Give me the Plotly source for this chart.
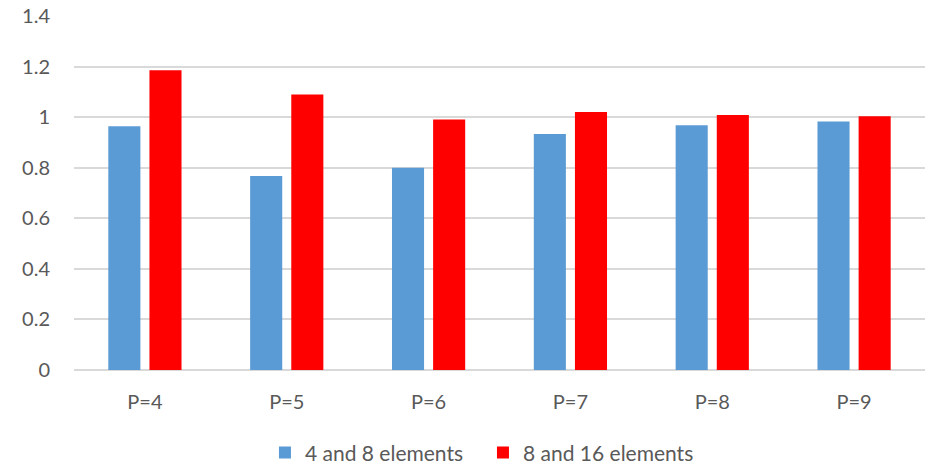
import plotly.graph_objects as go

categories = ["P=4", "P=5", "P=6", "P=7", "P=8", "P=9"]
series_a_name = "4 and 8 elements"
series_a = [0.964, 0.767, 0.800, 0.933, 0.968, 0.983]
series_b_name = "8 and 16 elements"
series_b = [1.185, 1.090, 0.991, 1.020, 1.008, 1.004]
y_ticks = [0, 0.2, 0.4, 0.6, 0.8, 1.0, 1.2, 1.4]
y_tick_labels = ["0", "0.2", "0.4", "0.6", "0.8", "1", "1.2", "1.4"]

FONT = "Lato, 'Open Sans', sans-serif"
GRAY = "#595959"

fig = go.Figure()
fig.add_trace(go.Bar(x=categories, y=series_a, name=series_a_name,
                     marker=dict(color="#5B9BD5", line=dict(width=0))))
fig.add_trace(go.Bar(x=categories, y=series_b, name=series_b_name,
                     marker=dict(color="#FF0000", line=dict(width=0))))

fig.update_layout(
    width=935, height=469,
    margin=dict(l=74, r=10, t=15.5, b=99, autoexpand=False),
    paper_bgcolor="white", plot_bgcolor="white",
    barmode="group", bargap=0.42, bargroupgap=0.22,
    font=dict(family=FONT, size=20, color=GRAY),
    showlegend=True,
    legend=dict(orientation="h", x=0.2244, xanchor="left", y=-0.234, yanchor="middle",
                font=dict(family=FONT, size=21, color=GRAY), itemwidth=30,
                entrywidth=173, entrywidthmode="pixels",
                traceorder="normal", bgcolor="rgba(0,0,0,0)"),
)
fig.update_xaxes(showgrid=False, showline=False, zeroline=False, automargin=False,
                 ticks="outside", ticklen=14, tickcolor="rgba(0,0,0,0)",
                 tickfont=dict(family=FONT, size=20, color=GRAY))
fig.update_yaxes(range=[0, 1.4], tickvals=y_ticks, ticktext=y_tick_labels, automargin=False,
                 showgrid=True, gridcolor="#D9D9D9", gridwidth=1.5,
                 zeroline=True, zerolinecolor="#D9D9D9", zerolinewidth=1.5,
                 showline=False, ticks="outside", ticklen=19, tickcolor="rgba(0,0,0,0)",
                 tickfont=dict(family=FONT, size=20, color=GRAY))

fig.write_html("out.html", config={"displayModeBar": False},
               post_script="document.body.style.margin='0';document.body.style.padding='0';")
